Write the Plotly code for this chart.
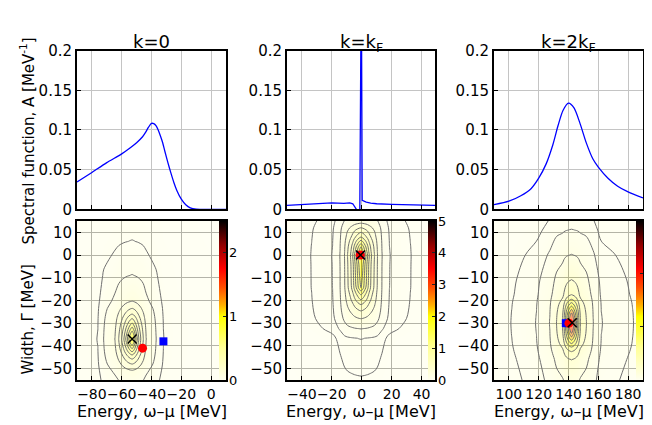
import plotly.graph_objects as go

W, H = 652, 425

# ---------------- top row: spectral function A(omega) ----------------
e_k0 = [-90, -80, -70, -60, -54, -50, -46, -44, -42, -40, -38.5, -37, -35.5, -34, -32.5, -31, -29, -27, -25, -23, -20, -17, -14, -10, 0, 10]
a_k0 = [0.0345, 0.0466, 0.059, 0.070, 0.078, 0.084, 0.0915, 0.097, 0.1035, 0.1083, 0.108, 0.1055, 0.100, 0.0925, 0.084, 0.073, 0.059, 0.046, 0.034, 0.024, 0.013, 0.006, 0.002, 0.0003, 0.0, 0.0]

e_kf = [-50, -40, -30, -20, -12, -8, -6, -4.5, -3, -1.3, -0.8, -0.3, 0.3, 1.5, 3, 6, 10, 20, 30, 49]
a_kf = [0.0052, 0.006, 0.0072, 0.0082, 0.0078, 0.0083, 0.0072, 0.003, -0.0015, -0.0015, 0.3, 0.3, 0.0115, 0.0105, 0.0092, 0.008, 0.0072, 0.0064, 0.006, 0.0052]

e_2kf = [90, 100, 108, 115, 120, 125, 129.5, 133, 136.3, 140, 143.7, 147.5, 152, 156.4, 160, 166.5, 173, 180, 190]
a_2kf = [0.006, 0.0104, 0.0173, 0.0265, 0.0394, 0.0574, 0.0815, 0.1056, 0.1245, 0.1337, 0.1277, 0.1096, 0.0835, 0.0635, 0.0534, 0.0394, 0.0293, 0.0221, 0.0145]

# ---------------- bottom row: |G| in the complex plane ----------------
# cross-sections through the peak (relative to the peak value)
gx_k0 = [-90, -83, -76, -72, -64.5, -62, -60, -58.5, -57.3, -56.2, -55.2, -54.2, -53, -52, -51.2, -50.4, -49.5, -48.5, -47.2, -45.5, -43.6, -37, -32, -23, -8, 10]
px_k0 = [0.036, 0.042, 0.05, 0.1, 0.2, 0.3, 0.4, 0.5, 0.6, 0.7, 0.8, 0.9, 1.0, 0.9, 0.8, 0.7, 0.6, 0.5, 0.4, 0.3, 0.2, 0.1, 0.05, 0.03, 0.02, 0.015]
gy_k0 = [-55, -50.7, -48, -45.8, -44, -42.6, -41.2, -39.8, -38.5, -37, -35.2, -33.5, -31.8, -30, -28, -26, -23.5, -20.4, -9, 6, 15]
py_k0 = [0.13, 0.2, 0.3, 0.4, 0.5, 0.6, 0.7, 0.8, 0.9, 1.0, 0.9, 0.8, 0.7, 0.6, 0.5, 0.4, 0.3, 0.2, 0.1, 0.05, 0.04]
peak_k0 = 1.05

gx_kf = [-50, -33.5, -19.5, -14.5, -11.5, -9.5, -7.5, -6, -4.9, -3.8, -2.7, -1.7, -0.5, 0.7, 1.7, 2.8, 3.9, 5, 6.5, 8.5, 10.5, 13.5, 18.5, 32.5, 44.5, 50]
px_kf = [0.018, 0.03, 0.05, 0.1, 0.2, 0.3, 0.4, 0.5, 0.6, 0.7, 0.8, 0.9, 1.0, 0.9, 0.8, 0.7, 0.6, 0.5, 0.4, 0.3, 0.2, 0.1, 0.05, 0.03, 0.02, 0.017]
gy_kf = [-55, -52.8, -45, -36.6, -32.4, -28, -24.6, -21.8, -19.7, -17.5, -15.8, -14.4, -9, -4, 0, 1.5, 3.6, 5, 6.5, 7.9, 10, 12, 14, 15]
py_kf = [0.028, 0.03, 0.038, 0.05, 0.1, 0.2, 0.3, 0.4, 0.5, 0.6, 0.7, 0.8, 0.86, 0.9, 1.0, 0.9, 0.8, 0.7, 0.6, 0.5, 0.4, 0.3, 0.2, 0.17]
peak_kf = 2.3

gx_2kf = [90, 102, 118.5, 127.5, 132, 136, 137, 137.8, 138.6, 139.4, 140.2, 141, 142, 143, 143.8, 144.6, 145.4, 146.2, 147, 148, 152, 156.5, 162, 183, 190]
px_2kf = [0.022, 0.03, 0.05, 0.1, 0.2, 0.3, 0.4, 0.5, 0.6, 0.7, 0.8, 0.9, 1.0, 0.9, 0.8, 0.7, 0.6, 0.5, 0.4, 0.3, 0.2, 0.1, 0.05, 0.03, 0.025]
gy_2kf = [-55, -46, -42.5, -40.5, -39, -37.5, -36, -34.5, -32.5, -30, -27.5, -25.5, -24, -22.5, -21, -19.5, -17.5, -11, 0, 11, 15]
py_2kf = [0.12, 0.2, 0.3, 0.4, 0.5, 0.6, 0.7, 0.8, 0.9, 1.0, 0.9, 0.8, 0.7, 0.6, 0.5, 0.4, 0.3, 0.2, 0.1, 0.05, 0.042]
peak_2kf = 2.0

# contour levels (relative to peak)
inner_levels = [0.1, 0.9]
outer_levels = [[0.05], [0.05, 0.03], [0.05, 0.03]]

# markers in the complex plane
sq_x = [-32, -1, 138.2]
sq_y = [-38, 0, -30]
ci_x = [-46, -1, 140.3]
ci_y = [-41, 0, -30]
cr_x = [-53, -0.8, 142.5]
cr_y = [-37, 0, -29.8]

titles = ["k=0", "k=k<sub>F</sub>", "k=2k<sub>F</sub>"]
x_ranges = [[-90, 10], [-50, 49], [90, 190]]
x_ticks = [[-80, -60, -40, -20, 0], [-40, -20, 0, 20, 40], [100, 120, 140, 160, 180]]
cbar_max = [2.5, 5, 3]
cbar_ticks = [[0, 1, 2], [0, 1, 2, 3, 4, 5], [0, 1, 2, 3]]

# ---------------------------------------------------------------------
FONT = "DejaVu Sans"
xdom_px = [(69, 218), (279, 427), (486, 635)]
ytop_px = (35, 201)
ybot_px = (213, 379)

def fx(p):
    return p / W

def fy(p):
    return 1 - p / H

cs = [[0, '#ffffee'], [0.2, '#ffff99'], [0.4, '#ffff00'], [0.47, '#ffb000'],
      [0.58, '#ff5000'], [0.7, '#ff0000'], [0.85, '#900000'], [1, '#000000']]

E = [e_k0, e_kf, e_2kf]
A = [a_k0, a_kf, a_2kf]
GX = [gx_k0, gx_kf, gx_2kf]
PX = [px_k0, px_kf, px_2kf]
GY = [gy_k0, gy_kf, gy_2kf]
PY = [py_k0, py_kf, py_2kf]
PK = [peak_k0, peak_kf, peak_2kf]

fig = go.Figure()
layout = dict()

for i in range(3):
    tx = 'x' if i == 0 else f'x{i+1}'
    ty = 'y' if i == 0 else f'y{i+1}'
    bx = f'x{i+4}'
    by = f'y{i+4}'

    # top: spectral function
    fig.add_trace(go.Scatter(
        x=E[i], y=A[i], mode='lines',
        line=dict(color='#0000ff', width=1.3,
                  shape='linear' if i == 1 else 'spline', smoothing=0.7),
        xaxis=tx, yaxis=ty, showlegend=False, hoverinfo='skip'))

    # bottom: field table built from the two cross-sections
    zt = [[PK[i] / (1.0 / a + 1.0 / b - 1.0) for a in PX[i]] for b in PY[i]]
    lo, hi = inner_levels
    fig.add_trace(go.Contour(
        x=GX[i], y=GY[i], z=zt, zmin=0, zmax=cbar_max[i], colorscale=cs,
        contours=dict(coloring='heatmap', showlines=False,
                      start=lo * PK[i], end=hi * PK[i], size=0.1 * PK[i]),
        line=dict(width=0), opacity=0.75,
        colorbar=dict(x=fx(xdom_px[i][1] - 7), xanchor='left', xpad=0, ypad=0,
                      y=fy((ybot_px[0] + ybot_px[1]) / 2), yanchor='middle',
                      len=(ybot_px[1] - ybot_px[0]) / H, lenmode='fraction',
                      thickness=7, thicknessmode='pixels', outlinewidth=0,
                      tickvals=cbar_ticks[i], ticks='inside', ticklen=3, tickcolor='#222',
                      tickfont=dict(family=FONT, size=13, color='black')),
        xaxis=bx, yaxis=by, hoverinfo='skip'))
    fig.add_trace(go.Contour(
        x=GX[i], y=GY[i], z=zt, showscale=False,
        contours=dict(coloring='none', start=lo * PK[i] * 0.985,
                      end=hi * PK[i] * 0.99, size=0.1 * PK[i]),
        line=dict(color='#707070', width=1, smoothing=0.9),
        xaxis=bx, yaxis=by, hoverinfo='skip'))
    for lev in outer_levels[i]:
        fig.add_trace(go.Contour(
            x=GX[i], y=GY[i], z=zt, showscale=False,
            contours=dict(coloring='none', start=lev * PK[i] * 0.985,
                          end=lev * PK[i] * 0.985, size=lev * PK[i]),
            line=dict(color='#707070', width=1, smoothing=0.9),
            xaxis=bx, yaxis=by, hoverinfo='skip'))

    # markers
    fig.add_trace(go.Scatter(x=[sq_x[i]], y=[sq_y[i]], mode='markers',
                             marker=dict(symbol='square', size=8, color='#0000ff'),
                             xaxis=bx, yaxis=by, showlegend=False, hoverinfo='skip'))
    fig.add_trace(go.Scatter(x=[ci_x[i]], y=[ci_y[i]], mode='markers',
                             marker=dict(symbol='circle', size=9, color='#ff0000'),
                             xaxis=bx, yaxis=by, showlegend=False, hoverinfo='skip'))
    fig.add_trace(go.Scatter(x=[cr_x[i]], y=[cr_y[i]], mode='markers',
                             marker=dict(symbol='x-thin', size=9, color='black',
                                         line=dict(color='black', width=1.5)),
                             xaxis=bx, yaxis=by, showlegend=False, hoverinfo='skip'))

    common = dict(showline=True, mirror=True, linecolor='black', linewidth=2,
                  ticks='inside', ticklen=4, tickcolor='black', zeroline=False,
                  tickangle=0)
    yfont = dict(family=FONT, size=15, color='black')
    xfont = dict(family=FONT, size=14, color='black')
    dom = [fx(xdom_px[i][0]), fx(xdom_px[i][1])]
    layout['xaxis' if i == 0 else f'xaxis{i+1}'] = dict(
        domain=dom, range=x_ranges[i], tickvals=x_ticks[i], showticklabels=False,
        anchor=ty, showgrid=True, gridcolor='#c4c4c4', gridwidth=1, tickfont=xfont, **common)
    layout['yaxis' if i == 0 else f'yaxis{i+1}'] = dict(
        domain=[fy(ytop_px[1]), fy(ytop_px[0])], range=[0, 0.2],
        tickvals=[0, 0.05, 0.1, 0.15, 0.2], ticktext=['0', '0.05', '0.1', '0.15', '0.2'],
        anchor=tx, showgrid=True, gridcolor='#c4c4c4', gridwidth=1, tickfont=yfont, **common)
    layout[f'xaxis{i+4}'] = dict(
        domain=dom, range=x_ranges[i], tickvals=x_ticks[i], anchor=by,
        showgrid=True, gridcolor='#555555', gridwidth=1, tickfont=xfont, **common)
    layout[f'yaxis{i+4}'] = dict(
        domain=[fy(ybot_px[1]), fy(ybot_px[0])], range=[-55, 15],
        tickvals=[-50, -40, -30, -20, -10, 0, 10], anchor=bx,
        showgrid=True, gridcolor='#555555', gridwidth=1, tickfont=yfont, **common)

annotations = []
for i in range(3):
    cx = fx((xdom_px[i][0] + xdom_px[i][1]) / 2)
    annotations.append(dict(text=titles[i], x=cx, y=fy(13), xref='paper', yref='paper',
                            xanchor='center', yanchor='top', showarrow=False,
                            font=dict(family=FONT, size=18, color='black')))
    annotations.append(dict(text="Energy, ω–μ [MeV]", x=cx, y=fy(412), xref='paper', yref='paper',
                            xanchor='center', yanchor='middle', showarrow=False,
                            font=dict(family=FONT, size=16, color='black')))
annotations.append(dict(text="Spectral function, A [MeV<sup>-1</sup>]", x=fx(20), y=fy(130),
                        xref='paper', yref='paper', xanchor='center', yanchor='middle',
                        textangle=-90, showarrow=False,
                        font=dict(family=FONT, size=15, color='black')))
annotations.append(dict(text="Width, Γ [MeV]", x=fx(20), y=fy(316),
                        xref='paper', yref='paper', xanchor='center', yanchor='middle',
                        textangle=-90, showarrow=False,
                        font=dict(family=FONT, size=15, color='black')))

fig.update_layout(
    width=W, height=H, margin=dict(l=0, r=0, t=0, b=0),
    paper_bgcolor='white', plot_bgcolor='white', showlegend=False,
    font=dict(family=FONT, size=15, color='black'),
    annotations=annotations, **layout)

fig.write_html("out.html")
